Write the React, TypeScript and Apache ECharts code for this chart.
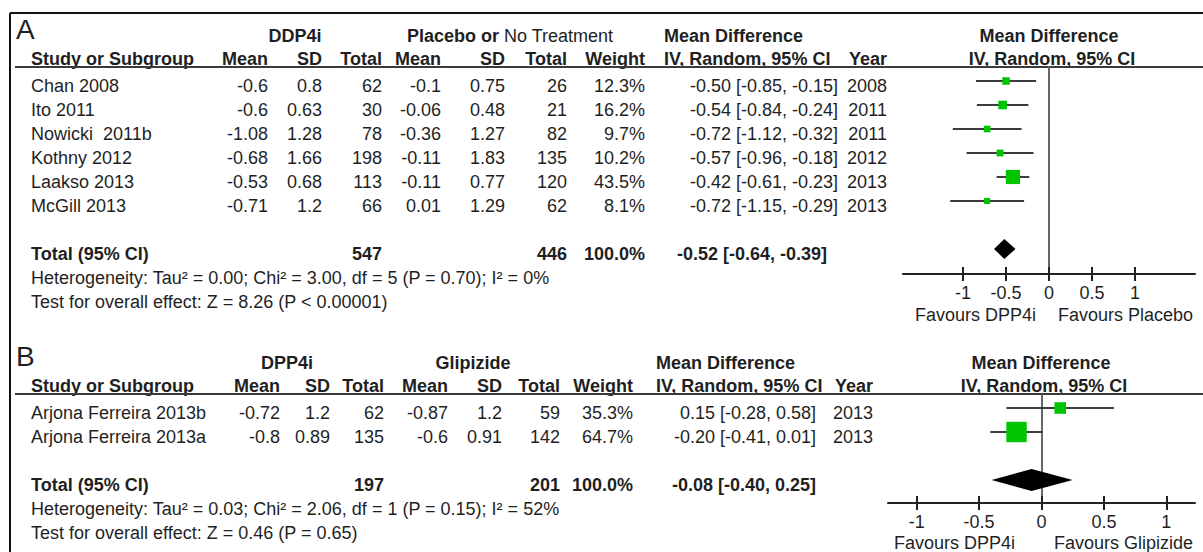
import React, { useEffect, useRef } from "react";
import * as echarts from "echarts";

// ---------- Panel A data ----------
const studiesA = ["Chan 2008", "Ito 2011", "Nowicki  2011b", "Kothny 2012", "Laakso 2013", "McGill 2013"];
const meanTA = [-0.6, -0.6, -1.08, -0.68, -0.53, -0.71];
const sdTA = [0.8, 0.63, 1.28, 1.66, 0.68, 1.2];
const nTA = [62, 30, 78, 198, 113, 66];
const meanCA = [-0.1, -0.06, -0.36, -0.11, -0.11, 0.01];
const sdCA = [0.75, 0.48, 1.27, 1.83, 0.77, 1.29];
const nCA = [26, 21, 82, 135, 120, 62];
const weightA = [12.3, 16.2, 9.7, 10.2, 43.5, 8.1];
const mdA = [-0.5, -0.54, -0.72, -0.57, -0.42, -0.72];
const loA = [-0.85, -0.84, -1.12, -0.96, -0.61, -1.15];
const hiA = [-0.15, -0.24, -0.32, -0.18, -0.23, -0.29];
const yearA = [2008, 2011, 2011, 2012, 2013, 2013];
const totalNA = [547, 446];
const totalCIA = [-0.52, -0.64, -0.39];
const hetA = "Heterogeneity: Tau² = 0.00; Chi² = 3.00, df = 5 (P = 0.70); I² = 0%";
const testA = "Test for overall effect: Z = 8.26 (P < 0.00001)";

// ---------- Panel B data ----------
const studiesB = ["Arjona Ferreira 2013b", "Arjona Ferreira 2013a"];
const meanTB = [-0.72, -0.8];
const sdTB = [1.2, 0.89];
const nTB = [62, 135];
const meanCB = [-0.87, -0.6];
const sdCB = [1.2, 0.91];
const nCB = [59, 142];
const weightB = [35.3, 64.7];
const mdB = [0.15, -0.2];
const loB = [-0.28, -0.41];
const hiB = [0.58, 0.01];
const yearB = [2013, 2013];
const totalNB = [197, 201];
const totalCIB = [-0.08, -0.4, 0.25];
const hetB = "Heterogeneity: Tau² = 0.03; Chi² = 2.06, df = 1 (P = 0.15); I² = 52%";
const testB = "Test for overall effect: Z = 0.46 (P = 0.65)";

// ---------- axis ticks ----------
const tickValues = [-1, -0.5, 0, 0.5, 1];

const FONT = '"Liberation Sans", Arial, Helvetica, sans-serif';
const INK = "#1f1f1f";

function txt(x: number, y: number, text: string, opts: any = {}) {
  return {
    type: "text",
    x,
    y,
    silent: true,
    style: {
      text,
      fill: INK,
      fontSize: opts.size ?? 18,
      fontFamily: FONT,
      fontWeight: opts.bold ? "bold" : "normal",
      align: opts.align ?? "left",
      verticalAlign: "middle",
    },
  };
}

function line(x1: number, y1: number, x2: number, y2: number, w = 2, c = "#333") {
  return { type: "line", silent: true, shape: { x1, y1, x2, y2 }, style: { stroke: c, lineWidth: w } };
}

const f2 = (v: number) => v.toFixed(2);
const fmtCI = (m: number, l: number, h: number) => `${f2(m)} [${f2(l)}, ${f2(h)}]`;

function buildTable(p: any) {
  const els: any[] = [];
  const { off, cols, d } = p;
  els.push(txt(16, 29 + off, p.letter, { size: 28 }));
  // header row 1
  els.push(txt(p.g1x, 36 + off, p.g1, { bold: true, align: "center" }));
  p.g2parts.forEach((pt: any) => els.push(txt(pt.x, 36 + off, pt.t, { bold: pt.bold, align: pt.align })));
  els.push(txt(cols.head, 36 + off, "Mean Difference", { bold: true }));
  els.push(txt(p.plotCenter, 36 + off, "Mean Difference", { bold: true, align: "center" }));
  // header row 2
  const h2 = 58.5 + off;
  els.push(txt(31, h2, "Study or Subgroup", { bold: true }));
  const hdr: [string, number][] = [
    ["Mean", cols.mT], ["SD", cols.sT], ["Total", cols.nT],
    ["Mean", cols.mC], ["SD", cols.sC], ["Total", cols.nC], ["Weight", cols.w],
  ];
  hdr.forEach(([t, x]) => els.push(txt(x, h2, t, { bold: true, align: "right" })));
  els.push(txt(cols.head, h2, "IV, Random, 95% CI", { bold: true }));
  els.push(txt(cols.yr, h2, "Year", { bold: true, align: "right" }));
  els.push(txt(p.plotCenter + 3, h2, "IV, Random, 95% CI", { bold: true, align: "center" }));
  els.push(line(15, 67 + off, 1203, 67 + off, 2, "#3a3a3a"));
  // study rows
  const y0 = 85.5 + off;
  d.studies.forEach((s: string, i: number) => {
    const y = y0 + i * 24;
    els.push(txt(31, y, s));
    els.push(txt(cols.mT, y, String(d.mT[i]), { align: "right" }));
    els.push(txt(cols.sT, y, String(d.sT[i]), { align: "right" }));
    els.push(txt(cols.nT, y, String(d.nT[i]), { align: "right" }));
    els.push(txt(cols.mC, y, String(d.mC[i]), { align: "right" }));
    els.push(txt(cols.sC, y, String(d.sC[i]), { align: "right" }));
    els.push(txt(cols.nC, y, String(d.nC[i]), { align: "right" }));
    els.push(txt(cols.w, y, d.w[i].toFixed(1) + "%", { align: "right" }));
    els.push(txt(cols.ci, y, fmtCI(d.md[i], d.lo[i], d.hi[i]), { align: "right" }));
    els.push(txt(cols.yr, y, String(d.yr[i]), { align: "right" }));
  });
  const ty = y0 + (d.studies.length + 1) * 24;
  els.push(txt(31, ty, "Total (95% CI)", { bold: true }));
  els.push(txt(cols.nT, ty, String(d.totN[0]), { bold: true, align: "right" }));
  els.push(txt(cols.nC, ty, String(d.totN[1]), { bold: true, align: "right" }));
  els.push(txt(cols.w, ty, "100.0%", { bold: true, align: "right" }));
  els.push(txt(cols.ciTot, ty, fmtCI(d.totCI[0], d.totCI[1], d.totCI[2]), { bold: true, align: "right" }));
  els.push(txt(31, ty + 24, d.het));
  els.push(txt(31, ty + 48, d.test));
  // favours labels
  els.push(txt(p.favL, p.favY, "Favours DPP4i", { align: "right" }));
  els.push(txt(p.favR, p.favY, p.favRText, { align: "left" }));
  return els;
}

function App() {
  const ref = useRef<HTMLDivElement>(null);
  useEffect(() => {
    document.body.style.margin = "0";
    if (!ref.current) return;
    const chart = echarts.init(ref.current, undefined, { renderer: "svg" });

    const dA = {
      studies: studiesA, mT: meanTA, sT: sdTA, nT: nTA, mC: meanCA, sC: sdCA, nC: nCA,
      w: weightA, md: mdA, lo: loA, hi: hiA, yr: yearA, totN: totalNA, totCI: totalCIA, het: hetA, test: testA,
    };
    const dB = {
      studies: studiesB, mT: meanTB, sT: sdTB, nT: nTB, mC: meanCB, sC: sdCB, nC: nCB,
      w: weightB, md: mdB, lo: loB, hi: hiB, yr: yearB, totN: totalNB, totCI: totalCIB, het: hetB, test: testB,
    };

    const graphics = [
      line(10, 13, 1203, 13, 2, "#111"),
      line(10, 13, 10, 552, 2, "#111"),
      ...buildTable({
        off: 0, letter: "A", d: dA,
        cols: { mT: 268, sT: 322, nT: 382, mC: 441, sC: 505, nC: 567, w: 645, ci: 838, ciTot: 827, yr: 887, head: 664 },
        g1: "DDP4i", g1x: 295,
        g2parts: [
          { x: 407, t: "Placebo or", bold: true, align: "left" },
          { x: 504, t: "No Treatment", bold: false, align: "left" },
        ],
        plotCenter: 1049, favL: 1036, favR: 1058, favY: 315, favRText: "Favours Placebo",
      }),
      ...buildTable({
        off: 327, letter: "B", d: dB,
        cols: { mT: 280, sT: 330, nT: 384, mC: 448, sC: 502, nC: 560, w: 633, ci: 816, ciTot: 816, yr: 873, head: 656 },
        g1: "DPP4i", g1x: 287,
        g2parts: [{ x: 473, t: "Glipizide", bold: true, align: "center" }],
        plotCenter: 1041, favL: 1015, favR: 1054, favY: 543, favRText: "Favours Glipizide",
      }),
    ];

    const mkX = (gi: number, min: number, max: number) => [
      {
        gridIndex: gi, type: "value", min, max, position: "bottom",
        axisLine: { show: true, onZero: false, lineStyle: { color: "#222", width: 2 } },
        axisTick: { show: true, customValues: tickValues, length: 7, lineStyle: { color: "#222", width: 2 } },
        axisLabel: {
          customValues: tickValues, margin: 19, verticalAlign: "middle", fontSize: 18,
          color: INK, fontFamily: FONT, formatter: (v: number) => String(v),
        },
        splitLine: { show: false },
      },
      {
        gridIndex: gi, type: "value", min, max, position: "bottom",
        axisLine: { show: false, onZero: false },
        axisTick: { show: true, inside: true, customValues: tickValues, length: 7, lineStyle: { color: "#222", width: 2 } },
        axisLabel: { show: false },
        splitLine: { show: false },
      },
    ];
    const mkY = (gi: number, min: number, max: number) => ({
      gridIndex: gi, type: "value", inverse: true, min, max,
      axisLine: { show: true, onZero: true, lineStyle: { color: "#666", width: 2 } },
      axisTick: { show: false }, axisLabel: { show: false }, splitLine: { show: false },
    });

    const ciSeries = (xi: number, yi: number, lo: number[], hi: number[]) => ({
      type: "custom", xAxisIndex: xi, yAxisIndex: yi,
      data: lo.map((l, i) => [l, hi[i], i]),
      encode: { x: [0, 1], y: 2 },
      renderItem: (_p: any, api: any) => {
        const a = api.coord([api.value(0), api.value(2)]);
        const b = api.coord([api.value(1), api.value(2)]);
        return { type: "line", shape: { x1: a[0], y1: a[1], x2: b[0], y2: b[1] }, style: { stroke: "#3c3c3c", lineWidth: 2 } };
      },
      z: 3,
    });
    const sqSeries = (xi: number, yi: number, md: number[], w: number[], sizeFn: (v: number) => number) => ({
      type: "scatter", xAxisIndex: xi, yAxisIndex: yi,
      data: md.map((m, i) => [m, i, w[i]]),
      symbol: "rect",
      symbolSize: (v: number[]) => sizeFn(v[2]),
      itemStyle: { color: "#00c400", opacity: 1 },
      z: 4,
    });
    const diamond = (xi: number, yi: number, ci: number[], row: number, h: number) => ({
      type: "custom", xAxisIndex: xi, yAxisIndex: yi,
      data: [[ci[1], ci[0], ci[2], row]],
      encode: { x: [0, 1, 2], y: 3 },
      renderItem: (_p: any, api: any) => {
        const l = api.coord([api.value(0), api.value(3)]);
        const c = api.coord([api.value(1), api.value(3)]);
        const r = api.coord([api.value(2), api.value(3)]);
        return {
          type: "polygon",
          shape: { points: [[l[0], c[1]], [c[0], c[1] - h], [r[0], c[1]], [c[0], c[1] + h]] },
          style: { fill: "#000" },
        };
      },
      z: 4,
    });

    chart.setOption({
      animation: false,
      backgroundColor: "#fff",
      textStyle: { fontFamily: FONT },
      grid: [
        { left: 903, top: 67, width: 292, height: 207 },
        { left: 888, top: 395, width: 307, height: 108 },
      ],
      xAxis: [...mkX(0, -1.7, 1.7), ...mkX(1, -1.23, 1.23)],
      yAxis: [mkY(0, -14 / 24, -14 / 24 + 207 / 24), mkY(1, -13 / 24, -13 / 24 + 108 / 24)],
      series: [
        ciSeries(0, 0, loA, hiA),
        sqSeries(0, 0, mdA, weightA, (w) => 2.15 * Math.sqrt(w)),
        diamond(0, 0, totalCIA, studiesA.length + 1, 10),
        ciSeries(2, 1, loB, hiB),
        sqSeries(2, 1, mdB, weightB, (w) => 0.3 * w + 1),
        diamond(2, 1, totalCIB, studiesB.length + 1, 11),
      ],
      graphic: graphics,
    });
    return () => chart.dispose();
  }, []);
  return <div ref={ref} style={{ width: 1203, height: 552 }} />;
}

export default App;
